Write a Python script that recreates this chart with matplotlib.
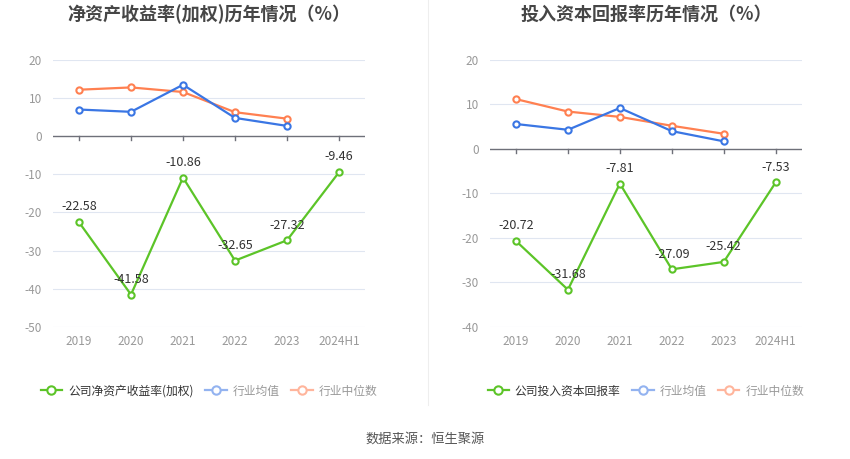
import numpy as np
import matplotlib
matplotlib.use('Agg')
import matplotlib.pyplot as plt
from matplotlib.lines import Line2D

plt.rcParams['font.family'] = ['Noto Sans CJK SC', 'DejaVu Sans']

years = ['2019', '2020', '2021', '2022', '2023', '2024H1']

# 净资产收益率(加权)
roe_company = [-22.58, -41.58, -10.86, -32.65, -27.32, -9.46]
roe_mean = [7.0, 6.4, 13.5, 4.8, 2.7]
roe_median = [12.2, 12.8, 11.6, 6.3, 4.6]

# 投入资本回报率
roic_company = [-20.72, -31.68, -7.81, -27.09, -25.42, -7.53]
roic_mean = [5.6, 4.3, 9.2, 4.0, 1.7]
roic_median = [11.2, 8.4, 7.2, 5.2, 3.4]

GREEN = '#5cc428'
BLUE = '#3a76e4'
ORANGE = '#ff8051'
GREEN_L = '#5cc428'
BLUE_L = '#93b3f0'
ORANGE_L = '#ffb59c'


def draw_panel(ax, company, mean, median, ylim, title, legend_label):
	x = np.arange(len(years))
	ax.set_xlim(-0.5, len(years) - 0.5)
	ax.set_ylim(*ylim)
	yt = np.arange(ylim[0], ylim[1] + 1, 10)
	ax.set_yticks(yt)
	ax.set_yticklabels([str(v) for v in yt])
	for v in yt:
		if v != 0:
			ax.axhline(v, color='#e0e6f1', lw=0.8, zorder=0)
	ax.axhline(0, color='#6e7079', lw=1, zorder=1)
	for xi in x:
		ax.plot([xi, xi], [0, -(ylim[1] - ylim[0]) * 0.015], color='#6e7079', lw=1, zorder=1)
	for s in ax.spines.values():
		s.set_visible(False)
	ax.set_xticks(x)
	ax.set_xticklabels(years)
	ax.tick_params(axis='both', length=0, colors='#999999', labelsize=8.5)
	ax.tick_params(axis='y', pad=8)
	ax.tick_params(axis='x', pad=6)

	mk = dict(marker='o', markersize=4.5, markerfacecolor='white', markeredgewidth=1.5, lw=1.6)
	ax.plot(x[:len(median)], median, color=ORANGE, zorder=3, **mk)
	ax.plot(x[:len(mean)], mean, color=BLUE, zorder=3, **mk)
	ax.plot(x, company, color=GREEN, zorder=4, **mk)
	for xi, v in zip(x, company):
		ax.annotate(f'{v:.2f}', (xi, v), xytext=(0, 11), textcoords='offset points',
			ha='center', va='center', fontsize=9, color='#333333', zorder=5)
	ax.set_title(title, fontsize=13, fontweight='bold', color='#464646', pad=0,
		y=1 + (60 - 14) / 266.7, va='center')

	lk = dict(marker='o', markersize=6, markerfacecolor='white', markeredgewidth=1.5, lw=1.6)
	handles = [
		Line2D([], [], color=GREEN_L, **lk),
		Line2D([], [], color=BLUE_L, **lk),
		Line2D([], [], color=ORANGE_L, **lk),
	]
	leg = ax.legend(handles, [legend_label, '行业均值', '行业中位数'], loc='center',
		bbox_to_anchor=(0.5, -0.241), ncol=3, frameon=False, fontsize=8.5,
		handlelength=1.8, handletextpad=0.5, columnspacing=1.0)
	for t, c in zip(leg.get_texts(), ['#333333', '#999999', '#999999']):
		t.set_color(c)


fig = plt.figure(figsize=(8.5, 4.59), dpi=100)
ax1 = fig.add_axes([53 / 850, 1 - 326.7 / 459, (365 - 53) / 850, (326.7 - 60) / 459])
ax2 = fig.add_axes([490 / 850, 1 - 326.7 / 459, (801.7 - 490) / 850, (326.7 - 60) / 459])

draw_panel(ax1, roe_company, roe_mean, roe_median, (-50, 20), '净资产收益率(加权)历年情况（%）', '公司净资产收益率(加权)')
draw_panel(ax2, roic_company, roic_mean, roic_median, (-40, 20), '投入资本回报率历年情况（%）', '公司投入资本回报率')

fig.add_artist(Line2D([428 / 850, 428 / 850], [1 - 405 / 459, 1.0], color='#eeeeee', lw=0.8))
fig.text(0.5, 1 - 439 / 459, '数据来源：恒生聚源', ha='center', va='center', fontsize=9.5, color='#555555')

fig.savefig('out.png', dpi=100)
